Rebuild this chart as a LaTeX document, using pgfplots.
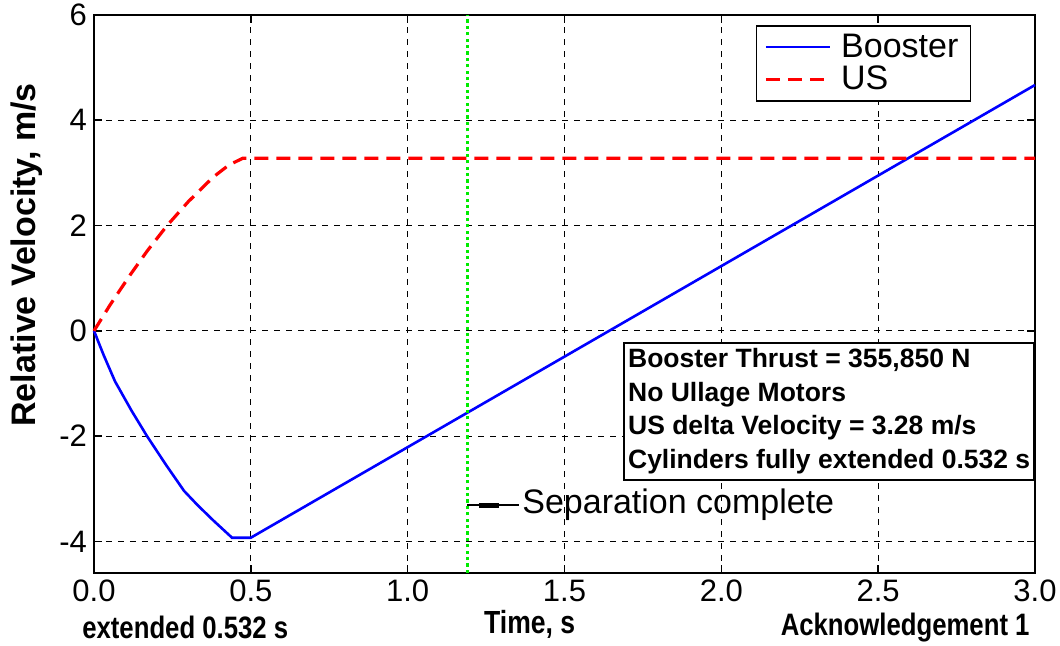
\documentclass[border=0pt]{standalone}
\usepackage{fontspec}
\setmainfont{Liberation Sans}
\newfontfamily\narrowfont[FakeStretch=0.83]{Liberation Sans}
\usepackage{pgfplots}
\pgfplotsset{compat=1.18}
\usetikzlibrary{calc}
\definecolor{mgreen}{RGB}{0,235,0}
\begin{document}
\begin{tikzpicture}
\begin{axis}[
  scale only axis, width=470.5pt, height=279pt,
  xmin=0, xmax=3, ymin=-4.6, ymax=6,
  xtick={0,0.5,1,1.5,2,2.5,3}, ytick={-4,-2,0,2,4,6},
  grid=major,
  major grid style={black, line width=0.6pt, dash pattern=on 3pt off 3pt},
  axis line style={black, line width=1pt},
  tick style={black, line width=0.8pt}, major tick length=4pt,
  tick align=inside,
  clip=false,
  /pgf/number format/assume math mode=true,
  xticklabel style={font=\fontsize{15.5}{18}\selectfont, /pgf/number format/.cd, fixed, fixed zerofill, precision=1},
  yticklabel style={font=\fontsize{15.5}{18}\selectfont},
  xlabel={Time, s},
  xlabel style={at={(rel axis cs:0.463,-0.092)}, anchor=center, inner sep=0pt, font=\narrowfont\fontsize{16}{18}\selectfont\bfseries},
  ylabel={Relative Velocity, m/s},
  ylabel style={at={(rel axis cs:-0.072,0.57)}, anchor=center, font=\fontsize{17}{20}\selectfont\bfseries},
  legend style={at={(rel axis cs:0.703,0.982)}, anchor=north west, draw=black, line width=0.8pt,
    font=\fontsize{17}{20}\selectfont, inner xsep=4pt, inner ysep=2pt, row sep=-1pt},
  legend cell align=left,
  legend image code/.code={\draw[#1] (0pt,0pt) -- (32pt,0pt);},
]
\addplot[blue, line width=1.3pt] coordinates {
(0,0) (0.03,-0.45) (0.067,-0.96) (0.12,-1.52) (0.169,-2.0) (0.23,-2.55) (0.287,-3.04)
(0.33,-3.31) (0.38,-3.6) (0.44,-3.93) (0.5,-3.93) (0.75,-3.07) (1.0,-2.21)
(1.5,-0.49) (2.0,1.23) (2.5,2.95) (3.0,4.67)};
\addlegendentry{\,Booster}
\addplot[red, line width=1.6pt, dash pattern=on 7pt off 4pt] coordinates {
(0,0) (0.05,0.48) (0.115,1.06) (0.17,1.52) (0.233,2.0) (0.3,2.45) (0.38,2.92)
(0.43,3.15) (0.475,3.28) (3.0,3.28)};
\addlegendentry{\,US}
\addplot[mgreen, line width=1.6pt, dash pattern=on 1.6pt off 1.6pt, forget plot] coordinates {(1.19,-4.6) (1.19,6)};
\draw[black, line width=0.6pt] (axis cs:1.19,-3.31) -- (axis cs:1.355,-3.31);
\draw[black, line width=2.5pt] (axis cs:1.227,-3.31) -- (axis cs:1.29,-3.31);
\node[anchor=west, font=\fontsize{17}{20}\selectfont, inner sep=1pt] at (axis cs:1.358,-3.31) {Separation complete};
\node[draw=black, fill=white, line width=0.8pt, anchor=north east, align=left,
  inner xsep=2pt, inner ysep=3pt, font=\fontsize{13.25}{16.75}\selectfont\bfseries]
  at (rel axis cs:1,0.414) {Booster Thrust = 355,850 N\\No Ullage Motors\\US delta Velocity = 3.28 m/s\\Cylinders fully extended 0.532 s};
\node[anchor=center, font=\narrowfont\fontsize{15.5}{18}\selectfont\bfseries] at (rel axis cs:0.097,-0.097) {extended 0.532 s};
\node[anchor=center, font=\narrowfont\fontsize{15.5}{18}\selectfont\bfseries] at (rel axis cs:0.862,-0.097) {Acknowledgement 1};
\end{axis}
\pgfresetboundingbox
\path[use as bounding box] ($(current axis.south west)+(-47pt,-36.5pt)$) rectangle ($(current axis.north east)+(12.5pt,7.5pt)$);
\end{tikzpicture}
\end{document}
